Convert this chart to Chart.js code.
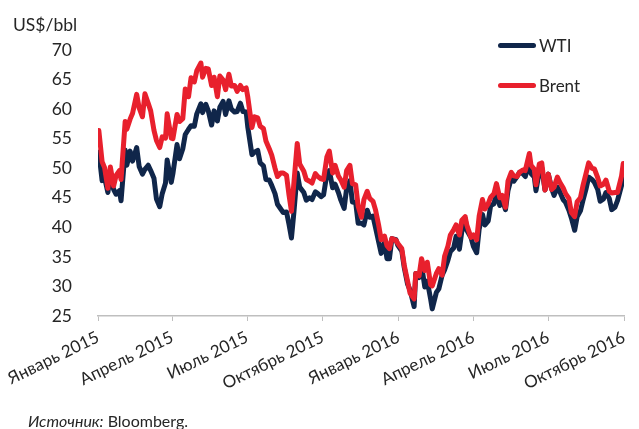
<!DOCTYPE html>
<html>
<head>
<meta charset="utf-8">
<script src="https://cdn.jsdelivr.net/npm/chart.js@4/dist/chart.umd.min.js"></script>
<style>
  body { margin: 0; background: #fff; }
  #wrap { position: relative; width: 639px; height: 429px; font-family: Lato, sans-serif; color: #262626; }
  #myChart { position: absolute; left: 0; top: 0; }
  #unit { position: absolute; left: 13px; top: 14px; font-size: 17.5px; }
  #legend { position: absolute; left: 498px; top: 33px; font-size: 17px; }
  .item { display: flex; align-items: center; height: 24px; margin-bottom: 16px; }
  .swatch { width: 38px; height: 5px; border-radius: 3px; margin-right: 3px; }
  #source { position: absolute; left: 28px; top: 411px; font-size: 16px; }
</style>
</head>
<body>
<div id="wrap">
  <canvas id="myChart" width="639" height="429"></canvas>
  <div id="unit">US$/bbl</div>
  <div id="legend"></div>
  <div id="source"><i>Источник:</i> Bloomberg.</div>
</div>
<script>
// trading dates (roughly twice a week)
const dates = [
  "2015-01-02","2015-01-06","2015-01-09","2015-01-13","2015-01-16","2015-01-20","2015-01-23","2015-01-27","2015-01-29",
  "2015-02-03","2015-02-05","2015-02-09","2015-02-12","2015-02-17","2015-02-20","2015-02-24","2015-02-27",
  "2015-03-03","2015-03-06","2015-03-10","2015-03-13","2015-03-17","2015-03-20","2015-03-24","2015-03-26","2015-03-31",
  "2015-04-02","2015-04-07","2015-04-10","2015-04-14","2015-04-17","2015-04-21","2015-04-24","2015-04-28",
  "2015-05-01","2015-05-06","2015-05-08","2015-05-12","2015-05-15","2015-05-19","2015-05-22","2015-05-26","2015-05-29",
  "2015-06-02","2015-06-05","2015-06-09","2015-06-12","2015-06-16","2015-06-19","2015-06-23","2015-06-26","2015-06-30",
  "2015-07-02","2015-07-07","2015-07-10","2015-07-14","2015-07-17","2015-07-21","2015-07-24","2015-07-28","2015-07-31",
  "2015-08-04","2015-08-07","2015-08-11","2015-08-14","2015-08-18","2015-08-21","2015-08-24","2015-08-27","2015-08-31",
  "2015-09-03","2015-09-08","2015-09-11","2015-09-15","2015-09-18","2015-09-22","2015-09-25","2015-09-29",
  "2015-10-02","2015-10-06","2015-10-09","2015-10-13","2015-10-16","2015-10-20","2015-10-23","2015-10-27","2015-10-30",
  "2015-11-03","2015-11-06","2015-11-10","2015-11-13","2015-11-17","2015-11-20","2015-11-24","2015-11-27",
  "2015-12-01","2015-12-04","2015-12-08","2015-12-11","2015-12-15","2015-12-18","2015-12-21","2015-12-24","2015-12-29","2015-12-31",
  "2016-01-05","2016-01-08","2016-01-12","2016-01-15","2016-01-20","2016-01-22","2016-01-26","2016-01-29",
  "2016-02-02","2016-02-05","2016-02-09","2016-02-11","2016-02-16","2016-02-19","2016-02-23","2016-02-26",
  "2016-03-01","2016-03-04","2016-03-08","2016-03-11","2016-03-15","2016-03-18","2016-03-22","2016-03-24","2016-03-29",
  "2016-04-01","2016-04-05","2016-04-08","2016-04-12","2016-04-15","2016-04-19","2016-04-22","2016-04-26","2016-04-29",
  "2016-05-03","2016-05-06","2016-05-10","2016-05-13","2016-05-17","2016-05-20","2016-05-24","2016-05-27","2016-05-31",
  "2016-06-03","2016-06-08","2016-06-10","2016-06-14","2016-06-16","2016-06-20","2016-06-23","2016-06-27",
  "2016-07-01","2016-07-05","2016-07-08","2016-07-12","2016-07-15","2016-07-19","2016-07-22","2016-07-26","2016-07-29",
  "2016-08-02","2016-08-05","2016-08-09","2016-08-12","2016-08-16","2016-08-19","2016-08-23","2016-08-26","2016-08-30",
  "2016-09-02","2016-09-06","2016-09-09","2016-09-13","2016-09-16","2016-09-20","2016-09-23","2016-09-28","2016-09-30"
];
const brent = [
  56.4,51.1,50.1,46.6,50.2,47.0,48.8,49.6,48.1,
  57.9,56.6,58.3,59.3,62.5,60.2,58.7,62.6,
  61.0,59.7,56.4,54.7,53.5,55.3,55.1,59.2,55.1,
  55.0,59.1,57.9,58.4,63.4,62.1,65.3,64.6,
  66.5,67.8,65.4,66.9,66.8,64.0,65.4,62.1,65.6,
  64.9,63.3,65.9,63.9,64.0,63.0,64.0,63.3,63.6,
  62.0,56.9,58.7,58.5,57.1,56.7,54.6,53.3,52.2,
  50.0,48.6,49.2,49.2,48.8,45.5,42.7,47.6,54.2,
  50.7,49.5,48.1,47.8,47.5,49.1,48.6,48.2,
  48.1,51.9,52.9,49.2,50.5,48.7,48.0,46.8,49.6,
  50.5,47.4,47.2,43.6,41.7,44.7,46.1,44.9,
  44.4,43.0,40.3,37.9,38.5,36.9,36.4,38.1,37.8,37.3,
  36.4,33.6,30.9,28.9,27.9,32.2,31.8,34.7,
  32.7,34.1,30.3,30.1,32.2,33.0,31.9,35.1,
  36.8,38.7,39.6,40.4,38.7,41.2,41.8,40.4,38.3,
  38.7,37.9,41.9,44.7,43.1,44.0,45.1,45.7,47.4,
  45.0,45.4,43.4,47.8,49.3,48.7,48.6,49.3,49.7,
  49.6,52.5,50.5,49.8,47.2,50.7,50.9,46.3,
  49.0,46.4,46.8,48.5,47.6,46.7,45.7,44.9,42.5,
  41.8,44.3,45.0,47.0,49.2,50.9,50.0,49.9,48.4,
  47.0,47.3,48.0,46.1,45.8,45.9,45.9,48.7,50.8
];
const wti = [
  52.7,47.9,48.4,45.9,48.7,46.4,45.6,46.2,44.5,
  53.1,50.5,52.9,51.2,53.5,50.3,49.0,49.8,
  50.5,49.6,48.3,44.8,43.5,45.7,47.5,51.4,47.6,
  49.1,54.0,51.6,53.3,55.7,56.6,57.2,57.1,
  59.2,60.9,59.4,60.8,59.7,57.3,59.7,58.0,60.3,
  61.3,59.1,61.4,60.0,59.5,59.6,61.0,59.6,59.5,
  56.9,52.3,52.7,53.0,50.9,50.4,48.1,48.0,47.1,
  45.7,43.9,43.1,42.5,42.6,40.5,38.2,42.6,49.2,
  46.8,45.9,44.6,45.0,44.7,46.0,45.7,45.2,
  45.5,49.0,49.6,46.7,47.3,45.9,44.6,43.2,46.6,
  47.9,44.3,44.2,40.7,40.7,40.4,42.9,41.7,
  41.9,40.0,37.5,35.6,37.4,34.7,34.7,38.1,37.9,37.0,
  36.0,33.2,30.4,29.4,26.6,32.2,31.5,33.6,
  29.9,30.9,27.9,26.2,29.0,29.6,31.9,32.8,
  34.4,35.9,36.5,38.5,36.3,39.4,41.5,39.5,38.3,
  36.8,35.7,39.7,42.2,40.4,41.1,43.7,44.0,45.9,
  43.7,44.7,43.0,46.2,48.3,47.8,48.6,49.3,49.1,
  48.6,51.2,49.1,48.5,46.2,49.4,50.1,46.3,
  49.0,46.6,45.4,46.8,46.0,44.7,44.2,42.9,41.6,
  39.5,41.8,42.8,44.5,46.6,48.5,48.1,47.6,46.4,
  44.4,44.8,45.9,44.9,43.0,43.4,44.5,47.1,48.8
];
const tickDates = ["2015-01-01","2015-04-01","2015-07-01","2015-10-01","2016-01-01","2016-04-01","2016-07-01","2016-10-01"];
const tickLabels = ["Январь 2015","Апрель 2015","Июль 2015","Октябрь 2015","Январь 2016","Апрель 2016","Июль 2016","Октябрь 2016"];
const yTicks = [25, 30, 35, 40, 45, 50, 55, 60, 65, 70];

const start = Date.UTC(2015, 0, 1);
function dayOf(s) {
  const p = s.split("-");
  return (Date.UTC(+p[0], +p[1] - 1, +p[2]) - start) / 864e5;
}
const tickDays = tickDates.map(dayOf);

const textColor = "#262626";

const data = {
  datasets: [
    {
      label: "WTI",
      borderColor: "#10264a",
      backgroundColor: "#10264a",
      data: dates.map((d, i) => ({ x: dayOf(d), y: wti[i] })),
      order: 1,
    },
    {
      label: "Brent",
      borderColor: "#e8202d",
      backgroundColor: "#e8202d",
      data: dates.map((d, i) => ({ x: dayOf(d), y: brent[i] })),
      order: 0,
    },
  ],
};

const config = {
  type: "line",
  data: data,
  options: {
    responsive: false,
    animation: false,
    layout: { padding: { top: 50, right: 3, left: 0, bottom: 0 } },
    elements: {
      line: { borderWidth: 5, tension: 0, borderJoinStyle: "round", borderCapStyle: "round" },
      point: { radius: 0 },
    },
    plugins: { legend: { display: false }, tooltip: { enabled: false } },
    scales: {
      x: {
        type: "linear",
        min: tickDays[0],
        max: tickDays[tickDays.length - 1],
        afterBuildTicks: (scale) => {
          scale.ticks = tickDays.map((v) => ({ value: v }));
        },
        afterFit: (scale) => {
          scale.height = 113;
        },
        grid: { drawOnChartArea: false, drawTicks: true, tickLength: 5, color: "#bfbfbf" },
        border: { color: "#bfbfbf", width: 1.5 },
        ticks: {
          autoSkip: false,
          minRotation: 26,
          maxRotation: 26,
          padding: 6,
          color: textColor,
          font: { family: "Lato", size: 17 },
          callback: (value, index) => tickLabels[index],
        },
      },
      y: {
        min: yTicks[0],
        max: yTicks[yTicks.length - 1],
        afterBuildTicks: (scale) => {
          scale.ticks = yTicks.map((v) => ({ value: v }));
        },
        afterFit: (scale) => {
          scale.width = 98;
        },
        grid: { display: false },
        border: { display: false },
        ticks: { padding: 18, color: textColor, font: { family: "Lato", size: 17.5 } },
      },
    },
  },
};
const myChart = new Chart(document.getElementById("myChart"), config);

// legend in the top right corner, WTI first
const legend = document.getElementById("legend");
[data.datasets[0], data.datasets[1]].forEach((ds) => {
  const item = document.createElement("div");
  item.className = "item";
  const sw = document.createElement("div");
  sw.className = "swatch";
  sw.style.background = ds.borderColor;
  const txt = document.createElement("span");
  txt.textContent = ds.label;
  item.appendChild(sw);
  item.appendChild(txt);
  legend.appendChild(item);
});
</script>
</body>
</html>
